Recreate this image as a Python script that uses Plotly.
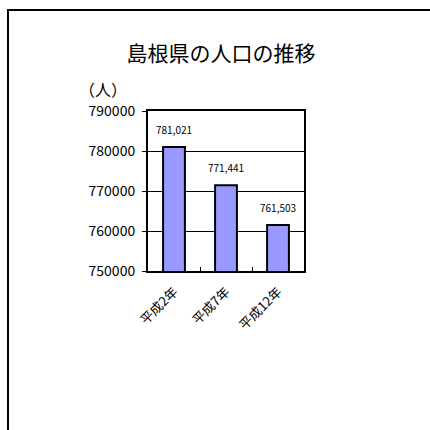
import plotly.graph_objects as go

# 島根県の人口（国勢調査）
years = ["平成2年", "平成7年", "平成12年"]
population = [781021, 771441, 761503]

y_ticks = [750000, 760000, 770000, 780000, 790000]

FONT = "Noto Sans CJK JP"

W, H = 430, 430
L, R, T, B = 148, 126, 111, 159
plot_w = W - L - R
plot_h = H - T - B

fig = go.Figure(
    go.Bar(
        x=years,
        y=population,
        width=0.42,
        marker=dict(color="#9999FF", line=dict(color="black", width=2)),
        hoverinfo="x+y",
    )
)

# value labels above each bar
for cat, val in zip(years, population):
    fig.add_annotation(
        x=cat, y=val, text=f"{val:,}", showarrow=False,
        yanchor="bottom", yshift=8,
        font=dict(family=FONT, size=10, color="black"),
    )

# unit label
fig.add_annotation(
    xref="paper", yref="paper",
    x=(103 - L) / plot_w, y=(H - B - 89) / plot_h,
    text="（人）", showarrow=False, xanchor="center", yanchor="middle",
    font=dict(family=FONT, size=16, color="black"),
)

# outer chart frame
fig.add_shape(
    type="rect", xref="paper", yref="paper",
    x0=(8 - L) / plot_w, x1=(445 - L) / plot_w,
    y0=(H - B - 445) / plot_h, y1=(H - B - 10) / plot_h,
    line=dict(color="black", width=2), fillcolor="rgba(0,0,0,0)",
    layer="below",
)

fig.update_layout(
    width=W, height=H,
    margin=dict(l=L, r=R, t=T, b=B),
    paper_bgcolor="white", plot_bgcolor="white",
    showlegend=False,
    title=dict(
        text="島根県の人口の推移",
        x=221 / W, y=1 - 54 / H, xanchor="center", yanchor="middle",
        font=dict(family=FONT, size=21, color="black"),
    ),
    font=dict(family=FONT, color="black"),
)

fig.update_xaxes(
    type="category",
    showline=True, linecolor="black", linewidth=2, mirror=True,
    ticks="inside", tickson="boundaries", ticklen=4, tickcolor="black", tickwidth=1,
    tickangle=-45,
    ticklabelstandoff=6,
    tickfont=dict(family=FONT, size=13, color="black"),
    showgrid=False,
)

fig.update_yaxes(
    range=[750000, 790000],
    tickvals=y_ticks, ticktext=[str(v) for v in y_ticks],
    showline=True, linecolor="black", linewidth=2, mirror=True,
    ticks="outside", ticklen=4, tickcolor="black", tickwidth=1,
    ticklabelstandoff=4,
    tickfont=dict(family=FONT, size=14, color="black"),
    showgrid=True, gridcolor="black", gridwidth=1,
    zeroline=False,
)

fig.write_html("out.html")
